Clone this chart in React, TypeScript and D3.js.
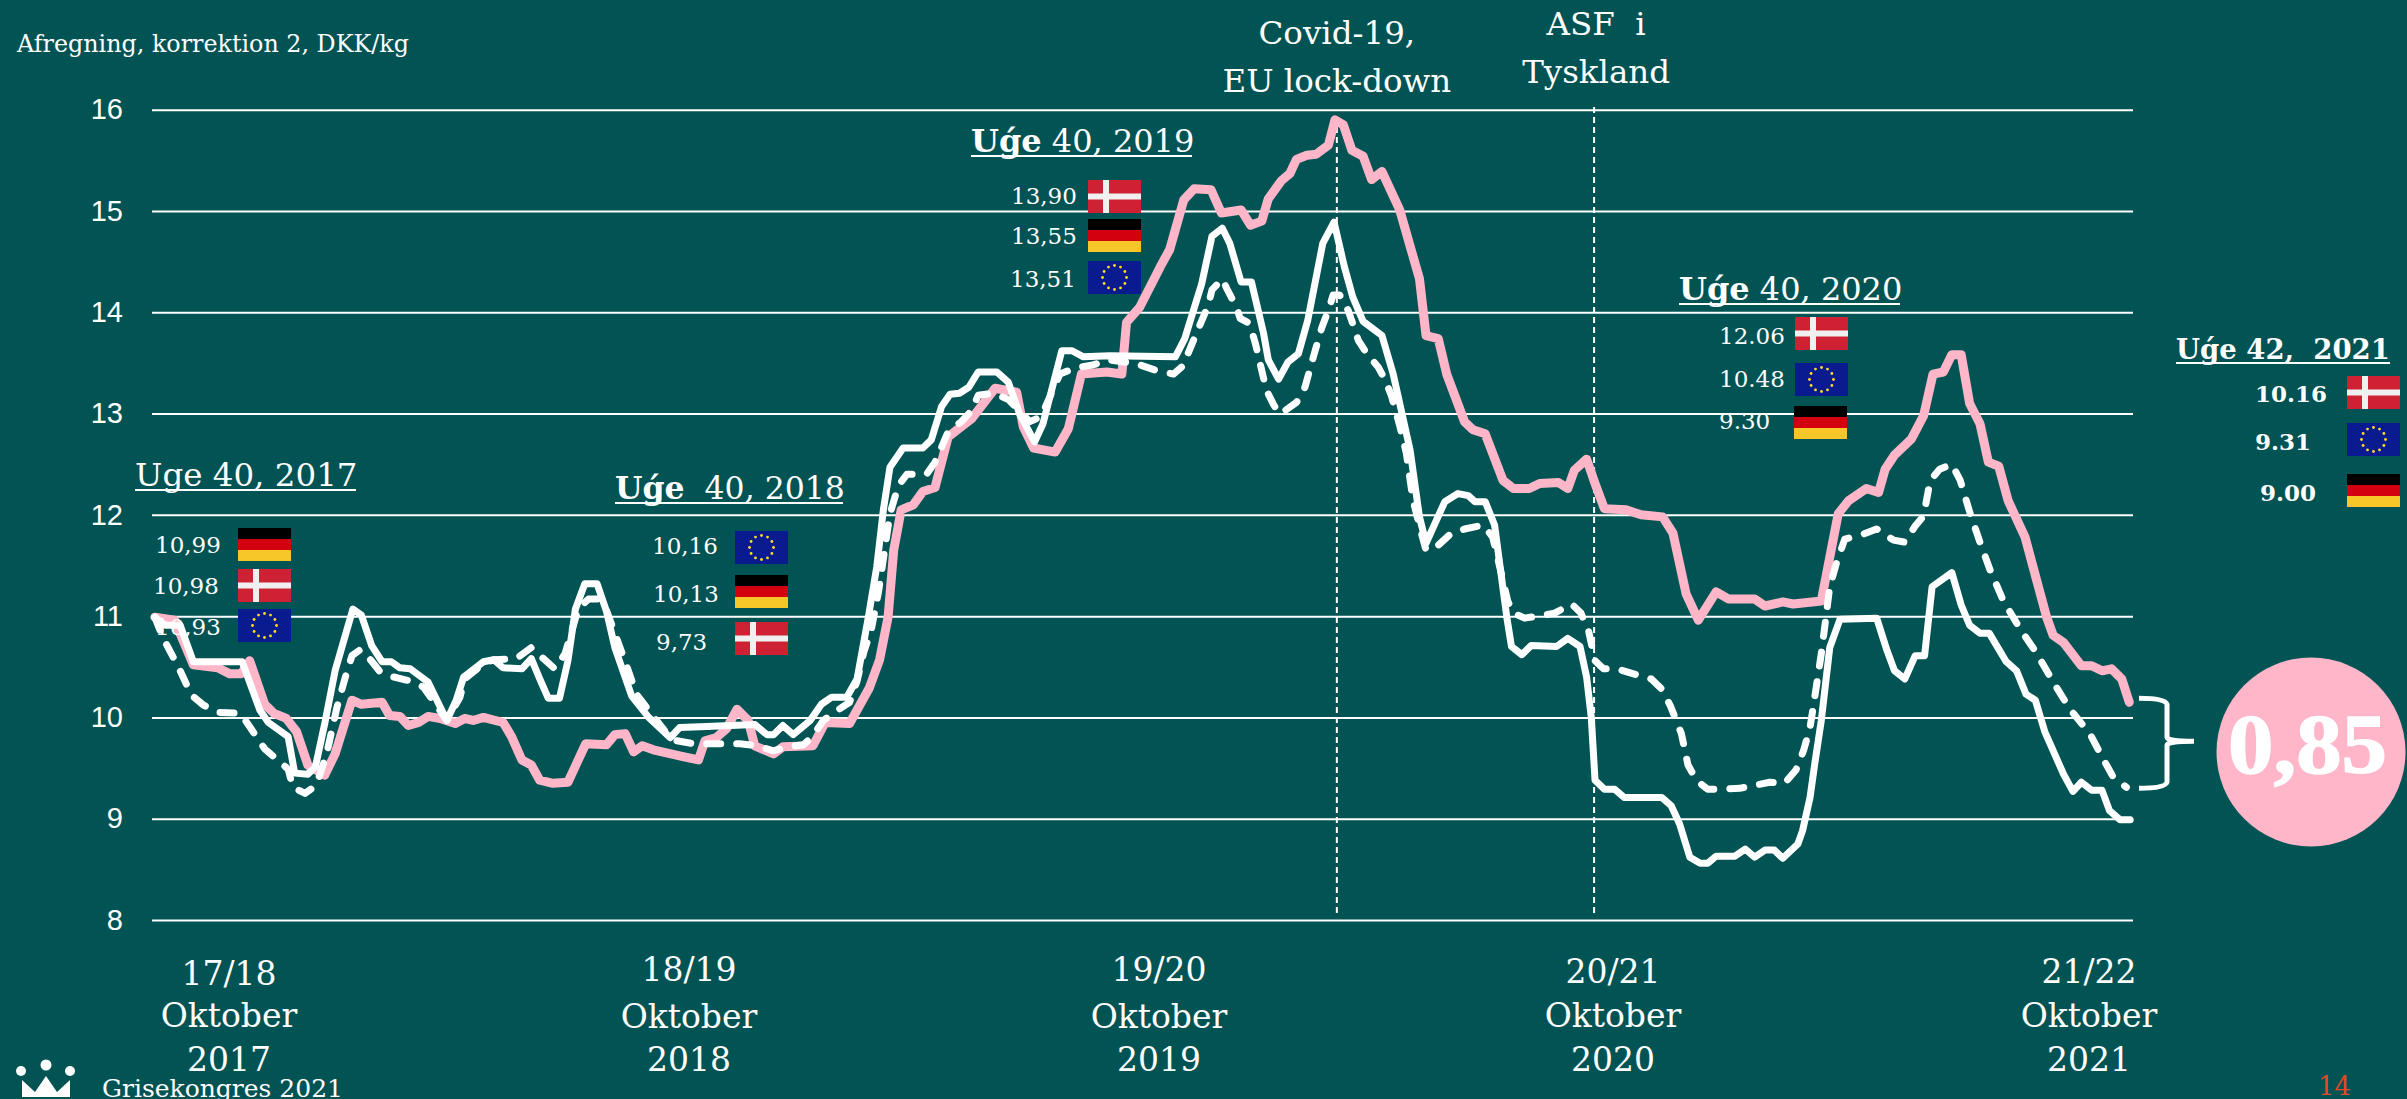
import React, { useEffect, useRef } from 'react';
import * as d3 from 'd3';

const WIDTH = 2407;
const HEIGHT = 1099;
const SERIF = '"DejaVu Serif", serif';
const BG = '#025353';
const PINK = '#FFB6C8';

// [week since uge 40 2017, DKK/kg]
const denmark: [number, number][] = [
  [0.3, 10.99], [2.4, 10.96], [4.4, 10.52], [7, 10.49], [8.3, 10.43], [9.5, 10.43], [10.4, 10.56], [12, 10.13],
  [13, 10.04], [14.3, 9.99], [15.4, 9.86], [16.6, 9.53], [18.4, 9.43], [19.5, 9.64], [21.3, 10.17], [22.3, 10.13],
  [24.5, 10.15], [25.3, 10.02], [26.4, 10.01], [27.3, 9.92], [28.4, 9.95], [29.4, 10.01], [30.7, 9.99], [32.3, 9.94],
  [33.3, 9.99], [34.2, 9.97], [35.3, 10], [37.4, 9.95], [38.3, 9.81], [39.4, 9.58], [40.4, 9.53], [41.3, 9.38],
  [42.7, 9.35], [44.3, 9.36], [46.2, 9.74], [48.4, 9.73], [49.3, 9.83], [50.4, 9.84], [51.3, 9.66], [52.2, 9.72],
  [53.4, 9.68], [56.2, 9.62], [58.2, 9.58], [58.9, 9.77], [60.1, 9.8], [61.2, 9.89], [62.3, 10.08], [63.5, 9.97],
  [64.2, 9.72], [66.2, 9.64], [67.2, 9.71], [70.4, 9.72], [71.7, 9.95], [74.3, 9.94], [76.4, 10.29], [77.5, 10.57],
  [78.4, 10.99], [79, 11.65], [79.8, 12.05], [81.1, 12.1], [82.1, 12.23], [83.4, 12.27], [84.8, 12.77], [87.3, 12.95],
  [89.8, 13.25], [92.1, 13.21], [92.8, 12.87], [93.9, 12.66], [96.2, 12.62], [97.6, 12.85], [99, 13.39], [101.7, 13.41],
  [103.3, 13.39], [103.8, 13.9], [105.2, 14.05], [107.4, 14.45], [108.4, 14.62], [109.9, 15.11], [111, 15.22],
  [112.8, 15.21], [113.9, 14.98], [116, 15.01], [117, 14.86], [118.2, 14.9], [118.9, 15.12], [120.3, 15.3],
  [121.2, 15.37], [121.9, 15.51], [123, 15.55], [124, 15.56], [125.3, 15.65], [126, 15.9], [126.9, 15.85],
  [127.8, 15.6], [129, 15.54], [129.9, 15.31], [131, 15.39], [132.9, 15.01], [135, 14.33], [135.7, 13.77],
  [137, 13.74], [137.9, 13.39], [139.8, 12.92], [140.7, 12.84], [142, 12.8], [143.9, 12.34], [145, 12.26],
  [146.7, 12.26], [147.8, 12.31], [149.8, 12.32], [150.8, 12.26], [151.5, 12.44], [152.8, 12.55], [153.7, 12.31],
  [154.7, 12.06], [157, 12.05], [158.6, 12], [160.9, 11.98], [162, 11.82], [163.4, 11.22], [164.7, 10.96],
  [166.6, 11.24], [167.9, 11.17], [170.7, 11.17], [171.8, 11.1], [173.7, 11.14], [174.8, 11.12], [177.8, 11.15],
  [178.7, 11.58], [179.6, 12.01], [180.7, 12.14], [182.6, 12.26], [183.9, 12.22], [184.6, 12.45], [185.6, 12.59],
  [187.4, 12.75], [188.7, 12.98], [189.7, 13.39], [190.8, 13.41], [191.7, 13.58], [192.7, 13.58], [193.6, 13.1],
  [194.7, 12.9], [195.6, 12.52], [196.7, 12.48], [197.7, 12.14], [199.5, 11.78], [201.8, 10.99], [202.5, 10.81],
  [203.6, 10.74], [205.5, 10.51], [206.6, 10.51], [207.7, 10.46], [208.7, 10.48], [209.8, 10.38], [210.6, 10.15],
];

const germany: [number, number][] = [
  [0.3, 10.99], [1.4, 10.91], [3, 10.91], [4.4, 10.55], [9.6, 10.55], [11.5, 10.07], [12.4, 9.95], [14.5, 9.81],
  [15.2, 9.45], [16.6, 9.44], [17.4, 9.51], [18.4, 9.94], [19.5, 10.46], [21.4, 11.07], [22.3, 11.01], [23.4, 10.71],
  [24.5, 10.55], [25.5, 10.55], [26.4, 10.49], [27.5, 10.48], [29.4, 10.35], [30.3, 10.18], [31.4, 9.97], [32.4, 10.17],
  [33.2, 10.4], [35.3, 10.55], [36.4, 10.57], [37.4, 10.49], [39.4, 10.48], [40.4, 10.58], [41.3, 10.38], [42.2, 10.19],
  [43.4, 10.19], [44.3, 10.56], [45.1, 11.07], [46.1, 11.32], [47.4, 11.32], [48.4, 11.05], [49.3, 10.69], [51.1, 10.21],
  [52.9, 10], [55.2, 9.8], [56.2, 9.9], [59.1, 9.91], [64.2, 9.93], [65.5, 9.83], [66.2, 9.83], [67.2, 9.92],
  [68.3, 9.83], [70.1, 9.97], [71.3, 10.13], [72.4, 10.2], [74, 10.2], [75.1, 10.38], [76.3, 10.99], [77.2, 11.49],
  [77.9, 12.05], [78.6, 12.47], [80, 12.66], [82.1, 12.66], [83, 12.74], [84.1, 13.07], [85, 13.19], [86, 13.2],
  [87, 13.26], [88, 13.41], [90, 13.41], [91.2, 13.31], [92.4, 13], [94, 12.72], [94.9, 12.9], [96.9, 13.62],
  [98, 13.62], [99.2, 13.56], [102, 13.57], [109, 13.56], [110, 13.74], [110.7, 13.95], [111.8, 14.28], [112.9, 14.75],
  [114, 14.83], [114.8, 14.68], [116, 14.3], [117.1, 14.3], [118.4, 13.79], [118.9, 13.53], [120, 13.34], [121, 13.51],
  [122.1, 13.59], [123.1, 13.92], [124.7, 14.68], [125.9, 14.89], [127, 14.45], [127.9, 14.15], [129, 13.91],
  [131, 13.77], [132.2, 13.39], [134, 12.64], [135, 11.98], [135.7, 11.72], [137.7, 12.13], [139.1, 12.21],
  [140.2, 12.19], [140.9, 12.13], [142, 12.13], [143, 11.9], [144.3, 10.99], [144.8, 10.7], [145.9, 10.62],
  [146.9, 10.71], [149.6, 10.7], [150.8, 10.78], [152.1, 10.7], [152.8, 10.4], [153.3, 10], [153.7, 9.38],
  [154.7, 9.29], [155.8, 9.29], [156.8, 9.21], [160.8, 9.21], [161.8, 9.13], [162.7, 8.95], [163.8, 8.62],
  [164.9, 8.56], [165.7, 8.56], [166.6, 8.63], [168.6, 8.63], [169.7, 8.7], [170.7, 8.62], [171.8, 8.69],
  [172.8, 8.69], [173.7, 8.61], [175.3, 8.75], [175.8, 8.88], [176.6, 9.21], [177.1, 9.54], [177.8, 9.97],
  [178.7, 10.69], [179.8, 10.97], [183.7, 10.98], [184.8, 10.66], [185.6, 10.46], [186.7, 10.38], [187.8, 10.61],
  [188.8, 10.61], [189.6, 11.29], [191.7, 11.43], [192.7, 11.11], [193.6, 10.91], [194.7, 10.83], [195.7, 10.83],
  [197.5, 10.55], [198.6, 10.46], [199.6, 10.23], [200.6, 10.17], [201.6, 9.86], [203.6, 9.44], [204.6, 9.27],
  [205.5, 9.36], [206.6, 9.28], [207.7, 9.28], [208.5, 9.08], [209.6, 8.99], [210.7, 8.99],
];

const eu: [number, number][] = [
  [0.3, 10.99], [1.2, 10.78], [2.8, 10.5], [4.2, 10.22], [5.5, 10.12], [7.2, 10.05], [9.4, 10.04], [10.1, 9.95],
  [12, 9.69], [14.5, 9.49], [15, 9.31], [16.3, 9.25], [17.5, 9.33], [18.6, 9.64], [19.7, 10.1], [20.6, 10.4],
  [21.3, 10.61], [22.2, 10.67], [23, 10.6], [24.3, 10.45], [25.7, 10.4], [27.5, 10.36], [28.9, 10.3], [30.5, 10.09],
  [31.4, 9.97], [32.8, 10.2], [33.3, 10.38], [35.3, 10.53], [36.4, 10.57], [38.8, 10.58], [40.4, 10.69], [41.7, 10.58],
  [42.9, 10.48], [44, 10.63], [45.4, 11.07], [46.5, 11.17], [47.5, 11.17], [48.4, 11.06], [49.3, 10.83], [50.4, 10.55],
  [51.6, 10.23], [52.9, 10.07], [54.6, 9.87], [55.9, 9.77], [57.7, 9.74], [62.6, 9.74], [64.4, 9.72], [66.2, 9.67],
  [67.6, 9.71], [69.4, 9.73], [70.4, 9.82], [71.5, 9.97], [72.7, 10.05], [74.3, 10.15], [75.1, 10.36], [75.8, 10.64],
  [76.6, 10.86], [77.4, 11.25], [78.6, 12.01], [79.5, 12.29], [80.4, 12.4], [82.5, 12.4], [83.4, 12.52], [84.1, 12.67],
  [84.8, 12.82], [86.2, 12.92], [87.3, 13.03], [88, 13.18], [89.6, 13.2], [91.2, 13.14], [93.5, 12.92], [94.7, 12.97],
  [96.7, 13.39], [98.3, 13.45], [100.2, 13.48], [102, 13.53], [104.9, 13.49], [106.8, 13.43], [108.8, 13.39],
  [109.8, 13.47], [111.1, 13.76], [112.5, 14.07], [112.9, 14.22], [114, 14.33], [114.5, 14.23], [115.5, 14.05],
  [115.9, 13.94], [116.9, 13.89], [117.5, 13.7], [118.7, 13.23], [119.4, 13.1], [120, 13], [120.7, 13.03], [121.9, 13.11],
  [122.8, 13.26], [123.7, 13.56], [124.6, 13.85], [125.3, 14.02], [125.8, 14.17], [126.5, 14.17], [127.4, 14.02],
  [128.5, 13.72], [129.4, 13.59], [130.6, 13.46], [131.3, 13.34], [132, 13.18], [132.9, 12.88], [133.6, 12.61],
  [134.3, 12.15], [135.2, 11.82], [135.7, 11.65], [137, 11.7], [138.4, 11.82], [139.8, 11.86], [141.8, 11.9],
  [142.8, 11.78], [143.9, 11.35], [144.4, 11.15], [145, 11.03], [146.2, 10.98], [148.2, 11.01], [149.4, 11.03],
  [151.2, 11.12], [152.2, 11.03], [153, 10.86], [153.7, 10.56], [154.6, 10.48], [156, 10.48], [157.8, 10.43],
  [159.7, 10.38], [160.8, 10.28], [161.7, 10.12], [162.9, 9.84], [163.6, 9.53], [164.5, 9.38], [165.7, 9.29],
  [169.1, 9.3], [172.3, 9.36], [173.9, 9.35], [175.1, 9.48], [175.9, 9.67], [176.6, 9.9], [177.1, 10.2], [177.8, 10.63],
  [178.2, 10.92], [178.7, 11.29], [179.4, 11.52], [180.3, 11.76], [182.3, 11.81], [183.7, 11.86], [185.5, 11.75],
  [186.7, 11.73], [187.8, 11.89], [188.7, 11.99], [189.4, 12.34], [190.4, 12.45], [191.7, 12.5], [192.6, 12.34],
  [193.6, 12.03], [194.7, 11.73], [195.8, 11.45], [197.2, 11.15], [199, 10.87], [200.7, 10.64], [202.5, 10.35],
  [204.3, 10.08], [206.4, 9.84], [208, 9.56], [208.9, 9.41], [210.3, 9.31],
];

const yTicks = [8, 9, 10, 11, 12, 13, 14, 15, 16];
const covidWeek = 126.2;
const asfWeek = 153.6;

// x label, lines, centre and baselines
const seasonLabels = [
  { lines: ['17/18', 'Oktober', '2017'], x: 229, ys: [985, 1027, 1071] },
  { lines: ['18/19', 'Oktober', '2018'], x: 689, ys: [981, 1028, 1071] },
  { lines: ['19/20', 'Oktober', '2019'], x: 1159, ys: [981, 1028, 1071] },
  { lines: ['20/21', 'Oktober', '2020'], x: 1613, ys: [983, 1027, 1071] },
  { lines: ['21/22', 'Oktober', '2021'], x: 2089, ys: [983, 1027, 1071] },
];

type Flag = 'de' | 'dk' | 'eu';
type Row = { value: string; flag: Flag; labelX: number; labelY: number; flagX: number; flagY: number };
type Callout = {
  head: string;
  rest: string;
  headBold: boolean;
  allBold: boolean;
  size: number;
  titleX: number;
  titleY: number;
  underline: number;
  rows: Row[];
};

const callouts: Callout[] = [
  {
    head: 'Uge', rest: ' 40, 2017', headBold: false, allBold: false, size: 32.5,
    titleX: 135, titleY: 486, underline: 221,
    rows: [
      { value: '10,99', flag: 'de', labelX: 155, labelY: 553, flagX: 238, flagY: 528 },
      { value: '10,98', flag: 'dk', labelX: 153, labelY: 594, flagX: 238, flagY: 569 },
      { value: '10,93', flag: 'eu', labelX: 155, labelY: 635, flagX: 238, flagY: 609 },
    ],
  },
  {
    head: 'Uǵe', rest: '  40, 2018', headBold: true, allBold: false, size: 31.5,
    titleX: 615, titleY: 499, underline: 228,
    rows: [
      { value: '10,16', flag: 'eu', labelX: 652, labelY: 554, flagX: 735, flagY: 531 },
      { value: '10,13', flag: 'de', labelX: 653, labelY: 602, flagX: 735, flagY: 575 },
      { value: '9,73', flag: 'dk', labelX: 656, labelY: 650, flagX: 735, flagY: 622 },
    ],
  },
  {
    head: 'Uǵe', rest: ' 40, 2019', headBold: true, allBold: false, size: 32,
    titleX: 971, titleY: 152, underline: 221,
    rows: [
      { value: '13,90', flag: 'dk', labelX: 1011, labelY: 204, flagX: 1088, flagY: 180 },
      { value: '13,55', flag: 'de', labelX: 1011, labelY: 244, flagX: 1088, flagY: 219 },
      { value: '13,51', flag: 'eu', labelX: 1010, labelY: 287, flagX: 1088, flagY: 261 },
    ],
  },
  {
    head: 'Uǵe', rest: ' 40, 2020', headBold: true, allBold: false, size: 32,
    titleX: 1679, titleY: 300, underline: 221,
    rows: [
      { value: '12.06', flag: 'dk', labelX: 1719, labelY: 344, flagX: 1795, flagY: 317 },
      { value: '10.48', flag: 'eu', labelX: 1719, labelY: 387, flagX: 1795, flagY: 363 },
      { value: '9.30', flag: 'de', labelX: 1719, labelY: 429, flagX: 1794, flagY: 406 },
    ],
  },
  {
    head: 'Uǵe', rest: ' 42,  2021', headBold: true, allBold: true, size: 27.5,
    titleX: 2176, titleY: 359, underline: 214,
    rows: [
      { value: '10.16', flag: 'dk', labelX: 2255, labelY: 402, flagX: 2347, flagY: 376 },
      { value: '9.31', flag: 'eu', labelX: 2255, labelY: 450, flagX: 2347, flagY: 423 },
      { value: '9.00', flag: 'de', labelX: 2260, labelY: 501, flagX: 2347, flagY: 474 },
    ],
  },
];

const FlagIcon = ({ kind, x, y }: { kind: Flag; x: number; y: number }) => {
  const w = 53;
  const h = 33;
  if (kind === 'de') {
    return (
      <g transform={`translate(${x},${y})`}>
        <rect width={w} height={h / 3} fill="#000" />
        <rect y={h / 3} width={w} height={h / 3} fill="#D3000F" />
        <rect y={(2 * h) / 3} width={w} height={h / 3} fill="#F7C628" />
      </g>
    );
  }
  if (kind === 'dk') {
    return (
      <g transform={`translate(${x},${y})`}>
        <rect width={w} height={h} fill="#CE2234" />
        <rect x={15} width={6} height={h} fill="#F0F0F0" />
        <rect y={13.5} width={w} height={6} fill="#F0F0F0" />
      </g>
    );
  }
  return (
    <g transform={`translate(${x},${y})`}>
      <rect width={w} height={h} fill="#0A1A8F" />
      {d3.range(12).map((i) => (
        <circle
          key={i}
          cx={w / 2 + 12 * Math.sin((i * Math.PI) / 6)}
          cy={h / 2 - 12 * Math.cos((i * Math.PI) / 6)}
          r={1.4}
          fill="#FFDD22"
        />
      ))}
    </g>
  );
};

const App = () => {
  const axisRef = useRef<SVGGElement>(null);

  const x = d3.scaleLinear().domain([0, 211]).range([152, 2133]);
  const y = d3.scaleLinear().domain([8, 16]).range([920, 109.7]);
  const line = d3
    .line<[number, number]>()
    .x((d) => x(d[0]))
    .y((d) => y(d[1]));

  useEffect(() => {
    const axis = d3
      .axisLeft(y)
      .tickValues(yTicks)
      .tickFormat((d) => String(d))
      .tickSizeInner(-(x(211) - x(0)))
      .tickSizeOuter(0)
      .tickPadding(29);
    const g = d3.select(axisRef.current).call(axis as any);
    g.select('.domain').remove();
    g.selectAll('line').attr('stroke', '#fff').attr('stroke-width', 2);
    g.selectAll('text')
      .attr('fill', '#fff')
      .attr('font-family', '"Liberation Sans", Arial, sans-serif')
      .attr('font-size', 29);
  }, []);

  const braceTop = y(10.19);
  const braceBottom = y(9.3);
  const braceMid = (braceTop + braceBottom) / 2 - 2;

  return (
    <svg
      width={WIDTH}
      height={HEIGHT}
      style={{ position: 'fixed', left: 0, top: 0, display: 'block' }}
      fontFamily={SERIF}
    >
      <rect width={WIDTH} height={HEIGHT} fill={BG} />

      <text x={17} y={52} fontSize={23.8} fill="#fff">Afregning, korrektion 2, DKK/kg</text>

      <g ref={axisRef} transform={`translate(${x(0)},0)`} />

      {/* event lines */}
      <line x1={x(covidWeek)} x2={x(covidWeek)} y1={117} y2={916} stroke="#fff" strokeWidth={2} strokeDasharray="6 4" />
      <line x1={x(asfWeek)} x2={x(asfWeek)} y1={107} y2={913} stroke="#fff" strokeWidth={2} strokeDasharray="6 4" />

      <path d={line(denmark) ?? ''} fill="none" stroke={PINK} strokeWidth={9} strokeLinejoin="round" strokeLinecap="round" />
      <path d={line(eu) ?? ''} fill="none" stroke="#fff" strokeWidth={7} strokeLinejoin="round" strokeLinecap="round" strokeDasharray="14 16" />
      <path d={line(germany) ?? ''} fill="none" stroke="#fff" strokeWidth={7} strokeLinejoin="round" strokeLinecap="round" />

      <g fill="#fff" fontSize={32.5} textAnchor="middle">
        <text x={x(covidWeek)} y={44}>Covid-19,</text>
        <text x={x(covidWeek)} y={92}>EU lock-down</text>
        <text x={x(asfWeek) + 2} y={35}>{'ASF\u00A0\u00A0i'}</text>
        <text x={x(asfWeek) + 2} y={83}>Tyskland</text>
      </g>

      {seasonLabels.map((s) => (
        <g key={s.x} fill="#fff" fontSize={33} textAnchor="middle">
          {s.lines.map((t, i) => (
            <text key={t} x={s.x} y={s.ys[i]}>{t}</text>
          ))}
        </g>
      ))}

      {callouts.map((c) => (
        <g key={c.rest} fill="#fff">
          <text x={c.titleX} y={c.titleY} fontSize={c.size} fontWeight={c.allBold ? 700 : 400} xmlSpace="preserve">
            <tspan fontWeight={c.headBold ? 700 : undefined}>{c.head}</tspan>
            {c.rest}
          </text>
          <rect x={c.titleX} y={c.titleY + 3} width={c.underline} height={2} />
          {c.rows.map((r) => (
            <g key={r.flag}>
              <text x={r.labelX} y={r.labelY} fontSize={23} fontWeight={c.allBold ? 700 : 400}>{r.value}</text>
              <FlagIcon kind={r.flag} x={r.flagX} y={r.flagY} />
            </g>
          ))}
        </g>
      ))}

      {/* brace and spread */}
      <path
        d={`M2139,${braceTop} Q2165,${braceTop} 2167,${braceTop + 6} V${braceMid - 4} Q2167,${braceMid} 2194,${braceMid} Q2167,${braceMid} 2167,${braceMid + 4} V${braceBottom - 6} Q2165,${braceBottom} 2139,${braceBottom}`}
        fill="none"
        stroke="#fff"
        strokeWidth={5}
      />
      <circle cx={2311} cy={752} r={94.5} fill={PINK} />
      <text
        x={2228}
        y={773}
        fontSize={84}
        fontWeight={700}
        fontFamily='"Liberation Serif", serif'
        fill="#fff"
        stroke="#fff"
        strokeWidth={1.5}
        textLength={159}
        lengthAdjust="spacingAndGlyphs"
      >
        0,85
      </text>

      {/* footer */}
      <g fill="#fff">
        <circle cx={21} cy={1071} r={5} />
        <circle cx={46} cy={1065} r={5.5} />
        <circle cx={70} cy={1071} r={5} />
        <path d="M22,1080 L35,1092 L46,1076 L57,1092 L70,1080 L70,1097 L22,1097 Z" />
      </g>
      <text x={102} y={1097} fontSize={25} fill="#fff">Grisekongres 2021</text>
      <text x={2318} y={1095} fontSize={26} fill="#E0492B">14</text>
    </svg>
  );
};

export default App;
